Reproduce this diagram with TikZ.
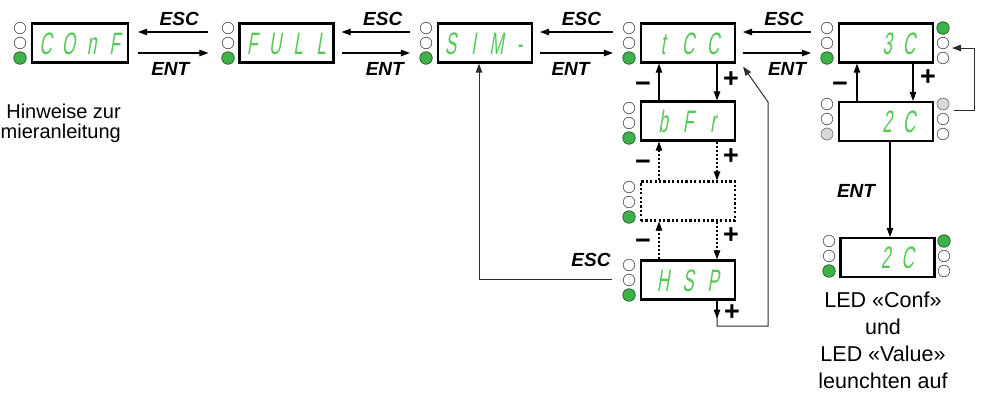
\documentclass[tikz,border=0pt]{standalone}
\usepackage{fontspec}
\usepackage{graphicx}
\setmainfont{Liberation Sans}
\newfontfamily\segfont[FakeSlant=0.3]{Liberation Sans}
\usetikzlibrary{arrows.meta,calc}
\definecolor{segg}{RGB}{84,200,84}
\definecolor{ledg}{RGB}{62,178,72}
\definecolor{ledgd}{RGB}{30,90,35}
\definecolor{lnc}{RGB}{45,45,45}
\newcommand\sgc[2]{\makebox[#1]{\scalebox{0.55}[1]{#2}}}
\newcommand\dtxt[1]{{\segfont\fontsize{31}{31}\selectfont\color{segg}#1}}
\newcommand\ledcol[6]{%
  \node[#4] (#1a) at (#2,#3-15) {};
  \node[#5] (#1b) at (#2,#3) {};
  \node[#6] (#1c) at (#2,#3+15) {};}
\begin{document}
\begin{tikzpicture}[x=1pt,y=-1pt,
  led/.style={circle,draw=black!65,line width=0.7pt,fill=white,minimum size=11.5pt,inner sep=0pt},
  ledon/.style={led,fill=ledg,draw=ledgd,minimum size=12.5pt},
  ledgrey/.style={led,fill=black!15,draw=black!55,minimum size=12pt},
  disp/.style={draw=black,line width=2.2pt,minimum width=94pt,minimum height=39pt,inner sep=0pt,text height=22pt,text depth=0pt},
  arr/.style={-{Triangle[length=9pt,width=6.5pt]},line width=1.1pt,draw=black},
  arrd/.style={arr,dash pattern=on 2pt off 2pt},
  thinln/.style={-{Triangle[length=9pt,width=6.5pt]},line width=1pt,draw=lnc},
  lbl/.style={font=\bfseries\itshape\fontsize{19}{19}\selectfont,inner sep=1pt},
  pm/.style={font=\bfseries\fontsize{27}{27}\selectfont,inner sep=0pt},
  info/.style={font=\fontsize{21.5}{27}\selectfont,align=center,inner sep=0pt}
]
\useasboundingbox (0,0) rectangle (984,397);

% displays
\node[disp,minimum width=96pt] (conf) at (80,43) {\dtxt{\sgc{23pt}{C}\sgc{23pt}{O}\sgc{23pt}{n}\sgc{23pt}{F}}};
\node[disp] (full) at (286.5,43) {\dtxt{\sgc{23pt}{F}\sgc{23pt}{U}\sgc{23pt}{L}\sgc{23pt}{L}}};
\node[disp] (sim) at (485,43) {\dtxt{\sgc{23pt}{S}\sgc{23pt}{I}\sgc{23pt}{M}\sgc{23pt}{-}}};
\node[disp] (tcc) at (688,43) {\dtxt{\sgc{25pt}{t}\sgc{25pt}{C}\sgc{25pt}{C}}};
\node[disp] (c3) at (886,43) {\dtxt{\hspace*{24pt}\sgc{22pt}{3}\sgc{22pt}{C}}};
\node[disp] (bfr) at (688,121) {\dtxt{\sgc{25pt}{b}\sgc{25pt}{F}\sgc{25pt}{r}}};
\node[disp] (c2) at (886,121.5) {\dtxt{\hspace*{24pt}\sgc{22pt}{2}\sgc{22pt}{C}}};
\node[disp,dash pattern=on 2.2pt off 2.2pt] (dots) at (688,201) {};
\node[disp] (hsp) at (688,280) {\dtxt{\sgc{25pt}{H}\sgc{25pt}{S}\sgc{25pt}{P}}};
\node[disp] (fin) at (887.5,257.5) {\dtxt{\hspace*{18pt}\sgc{22pt}{2}\sgc{22pt}{C}}};

% LEDs
\ledcol{confL}{20}{43}{led}{led}{ledon}
\ledcol{fullL}{228}{43}{led}{led}{ledon}
\ledcol{simL}{426}{43}{led}{led}{ledon}
\ledcol{tccL}{629}{43}{led}{led}{ledon}
\ledcol{cthrL}{827}{43}{led}{led}{ledon}
\ledcol{cthrR}{943}{43}{ledon}{led}{led}
\ledcol{bfrL}{629}{123}{led}{led}{ledon}
\ledcol{dotL}{629}{202}{led}{led}{ledon}
\ledcol{hspL}{629}{280}{led}{led}{ledon}
\ledcol{ctwoL}{827}{119}{led}{led}{ledgrey}
\ledcol{ctwoR}{943}{119}{ledgrey}{led}{led}
\ledcol{finL}{829}{256}{led}{led}{ledon}
\ledcol{finR}{944}{256}{ledon}{led}{led}

% top row ESC / ENT
\draw[arr] ([xshift=-30pt,yshift=11pt]full.west) -- ([xshift=9pt,yshift=11pt]conf.east)
  node[midway,above=4.5pt,lbl,xshift=6pt] (esc1) {ESC};
\draw[arr] ([xshift=9pt,yshift=-10pt]conf.east) -- ([xshift=-30pt,yshift=-10pt]full.west)
  node[midway,below=7.5pt,lbl,xshift=-3pt] (ent1) {ENT};
\draw[arr] ([xshift=-27pt,yshift=11pt]sim.west) -- ([xshift=7pt,yshift=11pt]full.east)
  node[midway,above=4.5pt,lbl,xshift=7pt] (esc2) {ESC};
\draw[arr] ([xshift=7pt,yshift=-10pt]full.east) -- ([xshift=-27pt,yshift=-10pt]sim.west)
  node[midway,below=7.5pt,lbl,xshift=9pt] (ent2) {ENT};
\draw[arr] ([xshift=-27pt,yshift=11pt]tcc.west) -- ([xshift=7pt,yshift=11pt]sim.east)
  node[midway,above=4.5pt,lbl,xshift=5pt] (esc3) {ESC};
\draw[arr] ([xshift=7pt,yshift=-10pt]sim.east) -- ([xshift=-27pt,yshift=-10pt]tcc.west)
  node[midway,below=7.5pt,lbl,xshift=-6pt] (ent3) {ENT};
\draw[arr] ([xshift=-27pt,yshift=11pt]c3.west) -- ([xshift=7pt,yshift=11pt]tcc.east)
  node[midway,above=4.5pt,lbl,xshift=7pt] (esc4) {ESC};
\draw[arr] ([xshift=7pt,yshift=-10pt]tcc.east) -- ([xshift=-27pt,yshift=-10pt]c3.west)
  node[midway,below=7.5pt,lbl,xshift=10pt] (ent4) {ENT};

% tCC column
\draw[arr] ([xshift=-29pt]bfr.north) -- ([xshift=-29pt]tcc.south);
\draw[arr] ([xshift=29pt]tcc.south) -- ([xshift=29pt]bfr.north);
\draw[arrd] ([xshift=-29pt]dots.north) -- ([xshift=-29pt]bfr.south);
\draw[arrd] ([xshift=29pt]bfr.south) -- ([xshift=29pt]dots.north);
\draw[arrd] ([xshift=-29pt]hsp.north) -- ([xshift=-29pt]dots.south);
\draw[arrd] ([xshift=29pt]dots.south) -- ([xshift=29pt]hsp.north);
\node[pm] (m1) at (643,87) {−};
\node[pm] (p1) at (731,80) {+};
\node[pm] (m2) at (643,165) {−};
\node[pm] (p2) at (731,157) {+};
\node[pm] (m3) at (643,244) {−};
\node[pm] (p3) at (731,236) {+};
\node[pm] (p4) at (732,313) {+};

% loop from HSP back to tCC
\coordinate (lpB) at (768,326);
\coordinate (lpC) at (768,102);
\draw[thinln] ([xshift=29pt]hsp.south) |- (lpB) -- (lpC) -- ([shift={(7pt,-3pt)}]tcc.south east);
\draw[arr] ([xshift=29pt]hsp.south) -- ([xshift=29pt,yshift=-18pt]hsp.south);

% ESC from HSP back to SIM-
\coordinate (escS) at (612,279);
\draw[thinln] (escS) -| ([xshift=-6pt]sim.south);
\node[lbl] (esc5) at (591,259.5) {ESC};

% 3C / 2C
\draw[arr] ([xshift=-29pt]c2.north) -- ([xshift=-29pt]c3.south);
\draw[arr] ([xshift=27pt]c3.south) -- ([xshift=27pt]c2.north);
\node[pm] (m4) at (840,87) {−};
\node[pm] (p5) at (928,78) {+};
\coordinate (lpR1) at (974,110);
\coordinate (lpR2) at (974,48);
\draw[thinln] ([shift={(5pt,-6pt)}]ctwoRa.east) -- (lpR1) -- (lpR2) -- ([shift={(3pt,-5pt)}]cthrRb.east);

% 2C -> confirmed
\draw[arr] ([xshift=4pt]c2.south) -- ([xshift=2.5pt]fin.north);
\node[lbl] (ent5) at (856,190.5) {ENT};

% texts
\node[info,anchor=north] (info) at (883,291.5) {LED «Conf»\\und\\LED «Value»\\leunchten auf};
\node[font=\fontsize{20}{20}\selectfont,align=right,inner sep=0pt,anchor=north east] (note) at (121,104) {Hinweise zur\\mieranleitung};
\end{tikzpicture}
\end{document}
